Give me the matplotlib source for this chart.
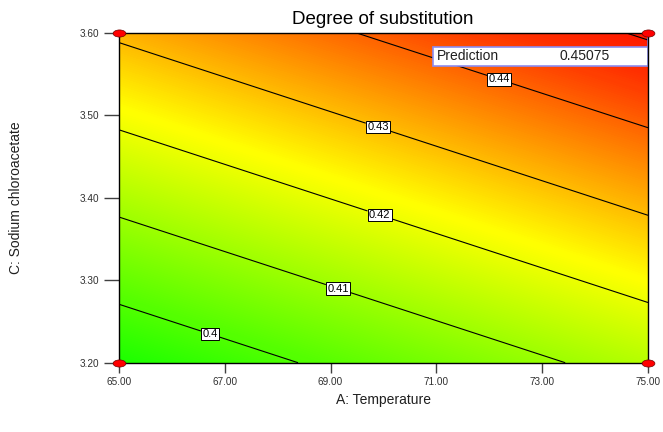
import numpy as np
import matplotlib
matplotlib.use("Agg")
import matplotlib.pyplot as plt
from matplotlib.colors import LinearSegmentedColormap
from matplotlib.markers import MarkerStyle
from matplotlib.path import Path
from matplotlib.transforms import Affine2D

# factor levels and response
temperature = [65.0, 70.0, 75.0]
chloroacetate = [3.20, 3.40, 3.60]
# degree of substitution, rows = chloroacetate, cols = temperature
ds = [
    [0.3933, 0.4032, 0.4131],
    [0.4122, 0.4221, 0.4320],
    [0.4311, 0.4410, 0.4508],
]
levels = [0.40, 0.41, 0.42, 0.43, 0.44, 0.45]
label_spots = [(66.76, 3.2425), (69.18, 3.298), (69.97, 3.388), (69.93, 3.493), (72.23, 3.552)]
design_a = [65.0, 65.0, 75.0, 75.0]
design_c = [3.20, 3.60, 3.20, 3.60]
prediction = 0.45075
xticks = [65, 67, 69, 71, 73, 75]
yticks = [3.2, 3.3, 3.4, 3.5, 3.6]

plt.rcParams['font.family'] = ['Liberation Sans', 'DejaVu Sans']

cmap = LinearSegmentedColormap.from_list(
    "de", [(0.0, "#00ff00"), (0.5, "#ffff00"), (0.86, "#ff3000"), (1.0, "#ff0000")])

fig = plt.figure(figsize=(6.63, 4.32), dpi=100)
ax = fig.add_axes([0.1795, 0.1604, 0.7979, 0.7632])

A, C = np.meshgrid(temperature, chloroacetate)
Z = np.array(ds)
fill = ax.contourf(A, C, Z, levels=np.linspace(0.39, 0.455, 260), cmap=cmap,
                   vmin=0.39, vmax=0.455, antialiased=False)
cs = ax.contour(A, C, Z, levels=levels, colors='black', linewidths=0.8)
labels = ax.clabel(cs, levels=levels[:5], manual=label_spots, fmt=lambda v: f"{v:g}",
                   fontsize=8, inline=True, inline_spacing=2)
for t in labels:
    t.set_rotation(0)
    t.set_bbox(dict(boxstyle='square,pad=0.12', fc='white', ec='black', lw=0.7))

ellipse = Path.unit_circle().transformed(Affine2D().scale(1.8, 1.0))
ax.scatter(design_a, design_c, marker=MarkerStyle(ellipse), s=85, c='red',
           edgecolors='#700000', linewidths=0.5, zorder=6, clip_on=False)

# prediction flag
ax.plot([1.0, 1.0], [1.0, 0.9], color='#8c8cf0', lw=1.2, transform=ax.transAxes, zorder=5, clip_on=False)
ax.add_patch(plt.Rectangle((0.5936, 0.900), 0.4064, 0.057, transform=ax.transAxes,
                           fc='white', ec='#8c8cf0', lw=1.2, zorder=5, clip_on=False))
ax.text(0.601, 0.929, "Prediction", transform=ax.transAxes, fontsize=10,
        va='center', ha='left', zorder=7, color='#202020')
ax.text(0.928, 0.929, f"{prediction:.5f}", transform=ax.transAxes, fontsize=10,
        va='center', ha='right', zorder=7, color='#202020')

ax.set_xlim(65, 75)
ax.set_ylim(3.2, 3.6)
ax.set_xticks(xticks)
ax.set_xticklabels([f"{v:.2f}" for v in xticks])
ax.set_yticks(yticks)
ax.set_yticklabels([f"{v:.2f}" for v in yticks])
ax.tick_params(axis='x', direction='out', length=7, width=1, color='#404040',
               labelsize=7.2, labelcolor='#303030', pad=3)
ax.tick_params(axis='y', direction='out', length=11, width=1, color='#404040',
               labelsize=7.2, labelcolor='#303030', pad=3)
for s in ax.spines.values():
    s.set_linewidth(1.0)
    s.set_color('black')
    s.set_zorder(5)

fig.text(0.578, 1 - 19 / 432, "Degree of substitution", fontsize=13.5, ha='center', va='center')
fig.text(0.578, 1 - 400 / 432, "A: Temperature", fontsize=10, ha='center', va='center', color='#202020')
fig.text(0.024, 0.543, "C: Sodium chloroacetate", fontsize=10, rotation=90,
         ha='center', va='center', color='#202020')

fig.savefig("out.png", dpi=100)
